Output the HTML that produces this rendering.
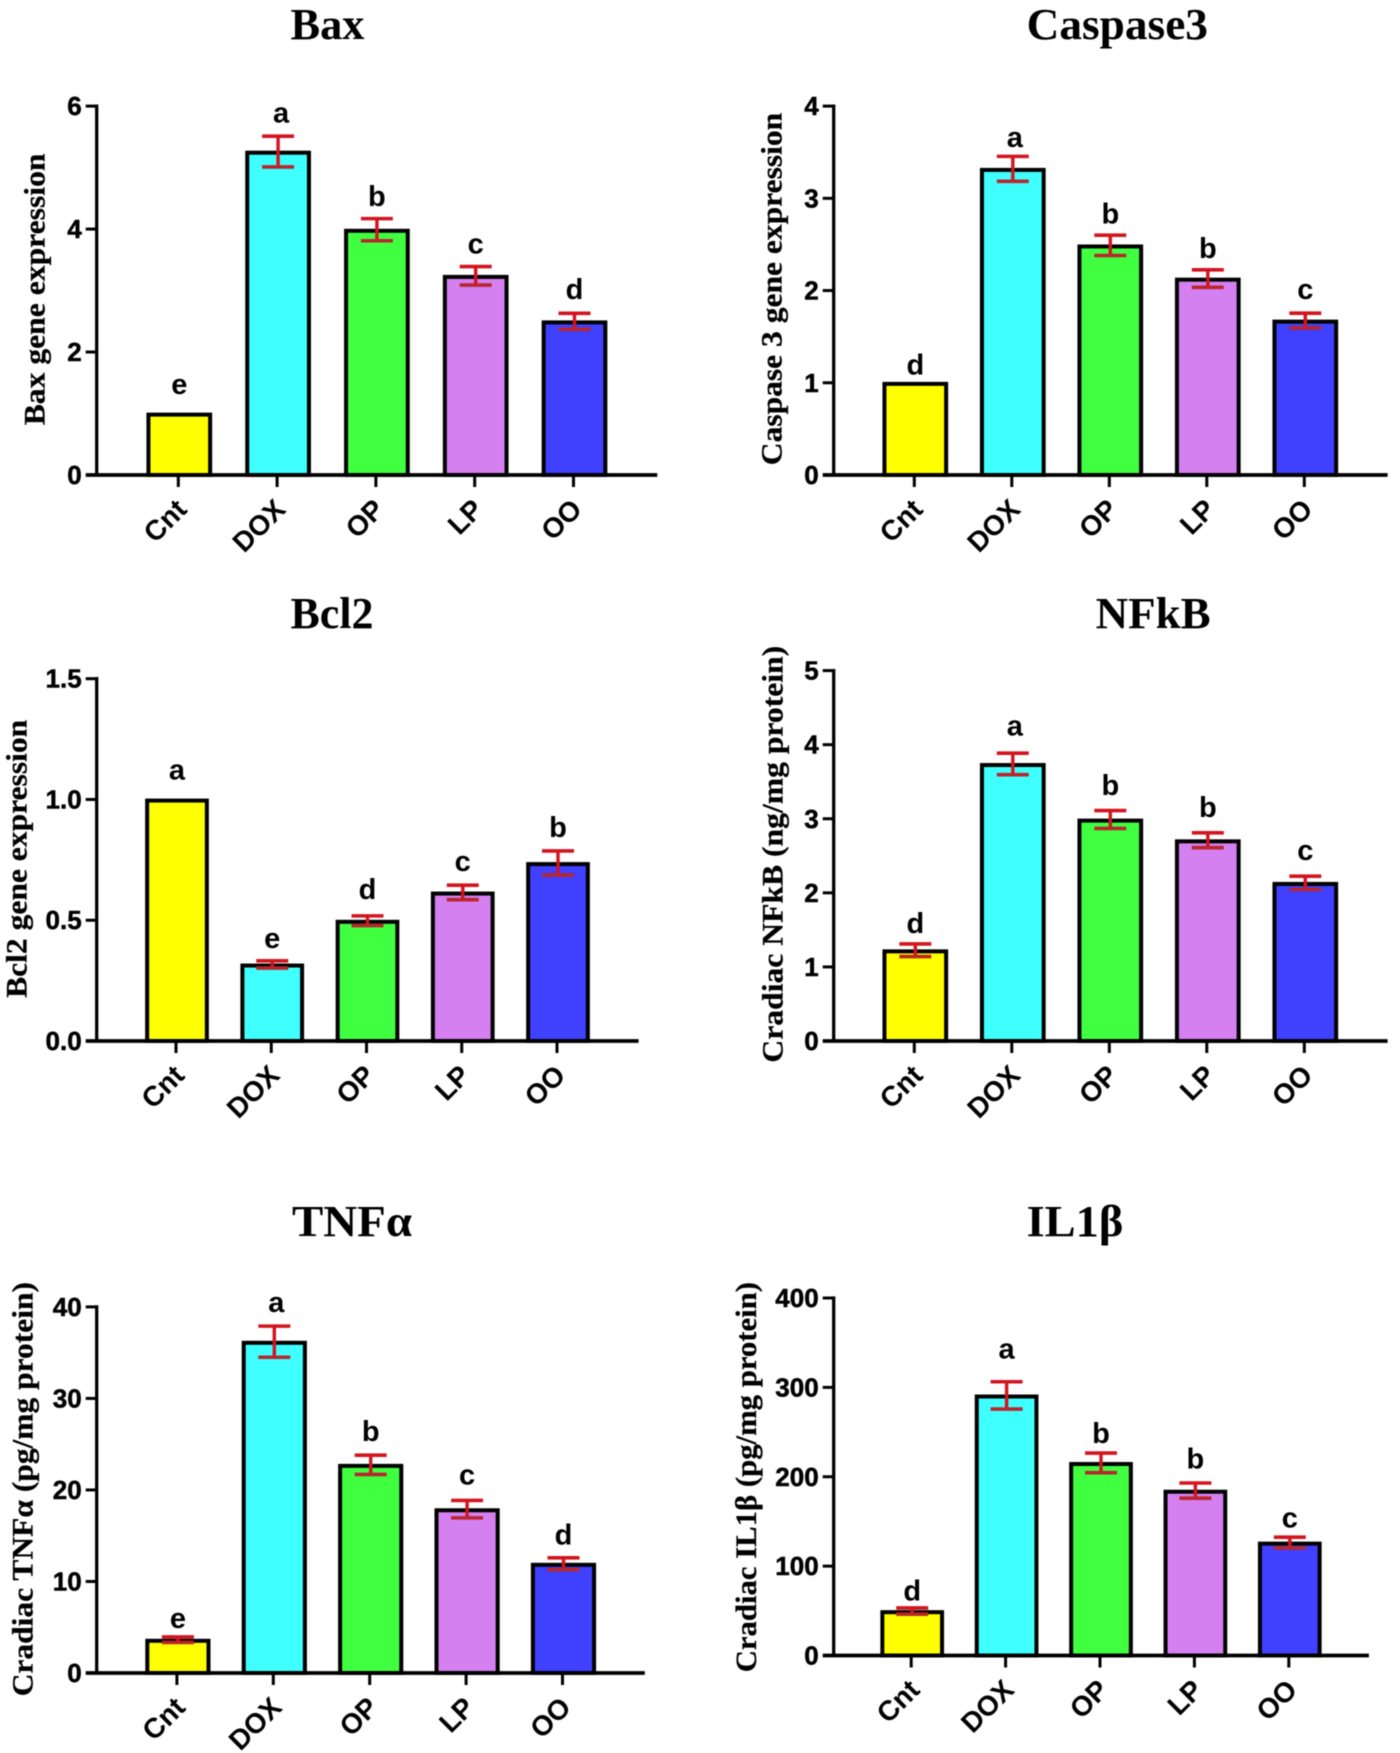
<!DOCTYPE html>
<html lang="en">
<head>
<meta charset="utf-8">
<title>Cardiac gene and cytokine expression bar charts</title>
<style>
  html, body { margin: 0; padding: 0; background: #fff; }
  svg { display: block; filter: blur(0.45px); }
  .panel-title { font-family: "Liberation Serif", serif; font-weight: bold; font-size: 44px; fill: #000; }
  .y-title { font-family: "Liberation Serif", serif; font-weight: bold; font-size: 30px; fill: #000; stroke: #000; stroke-width: 0.25px; }
  .tick { font-family: "Liberation Sans", sans-serif; font-weight: bold; font-size: 26px; fill: #000; stroke: #000; stroke-width: 0.5px; }
  .cat { font-family: "Liberation Sans", sans-serif; font-weight: bold; font-size: 28px; fill: #000; }
  .letter { font-family: "Liberation Sans", sans-serif; font-weight: bold; font-size: 29px; fill: #000; }
</style>
</head>
<body>
<svg id="figure" width="1400" height="1753" viewBox="0 0 1400 1753" xmlns="http://www.w3.org/2000/svg">
  <rect width="1400" height="1753" fill="#ffffff"/>

  <g id="panel-bax">
    <text class="panel-title" x="290.5" y="38.8" textLength="74" lengthAdjust="spacingAndGlyphs">Bax</text>
    <text class="y-title" transform="translate(44.7,425.3) rotate(-90)" textLength="271.8" lengthAdjust="spacingAndGlyphs">Bax gene expression</text>
  </g>
  <g id="panel-caspase">
    <text class="panel-title" x="1026.6" y="38.8" textLength="181.4" lengthAdjust="spacingAndGlyphs">Caspase3</text>
    <text class="y-title" transform="translate(781.4,465.2) rotate(-90)" textLength="352.4" lengthAdjust="spacingAndGlyphs">Caspase 3 gene expression</text>
  </g>
  <g id="panel-bcl2">
    <text class="panel-title" x="290.5" y="628" textLength="83" lengthAdjust="spacingAndGlyphs">Bcl2</text>
    <text class="y-title" transform="translate(26.7,997.9) rotate(-90)" textLength="278.1" lengthAdjust="spacingAndGlyphs">Bcl2 gene expression</text>
  </g>
  <g id="panel-nfkb">
    <text class="panel-title" x="1095.7" y="628" textLength="115" lengthAdjust="spacingAndGlyphs">NFkB</text>
    <text class="y-title" transform="translate(782.3,1062.6) rotate(-90)" textLength="416.8" lengthAdjust="spacingAndGlyphs">Cradiac NFkB (ng/mg protein)</text>
  </g>
  <g id="panel-tnf">
    <text class="panel-title" x="292" y="1235.9" textLength="120" lengthAdjust="spacingAndGlyphs">TNFα</text>
    <text class="y-title" transform="translate(32.4,1696.3) rotate(-90)" textLength="414.3" lengthAdjust="spacingAndGlyphs">Cradiac TNFα (pg/mg protein)</text>
  </g>
  <g id="panel-il1">
    <text class="panel-title" x="1026.6" y="1235.9" textLength="96.7" lengthAdjust="spacingAndGlyphs">IL1β</text>
    <text class="y-title" transform="translate(756,1672.3) rotate(-90)" textLength="390.3" lengthAdjust="spacingAndGlyphs">Cradiac IL1β (pg/mg protein)</text>
  </g>
</svg>

<script>
// ---- shared categories ----
const categories = ['Cnt', 'DOX', 'OP', 'LP', 'OO'];
const barColors = ['#ffff00', '#40ffff', '#40ff40', '#d580f0', '#4040ff'];

// ---- Bax ----
const baxValues = [1, 5.26, 3.99, 3.24, 2.5];
const baxErrors = [0, 0.25, 0.18, 0.15, 0.13];
const baxLetters = ['e', 'a', 'b', 'c', 'd'];
const baxLetterLift = [0.45, 0.35, 0.34, 0.34, 0.37];
const baxTicks = ['0', '2', '4', '6'];

// ---- Caspase 3 ----
const caspaseValues = [1, 3.32, 2.49, 2.13, 1.675];
const caspaseErrors = [0, 0.135, 0.11, 0.095, 0.08];
const caspaseLetters = ['d', 'a', 'b', 'b', 'c'];
const caspaseLetterLift = [0.18, 0.19, 0.22, 0.22, 0.24];
const caspaseTicks = ['0', '1', '2', '3', '4'];

// ---- Bcl2 ----
const bcl2Values = [1.0, 0.317, 0.498, 0.615, 0.737];
const bcl2Errors = [0, 0.015, 0.02, 0.03, 0.05];
const bcl2Letters = ['a', 'e', 'd', 'c', 'b'];
const bcl2LetterLift = [0.115, 0.087, 0.106, 0.091, 0.092];
const bcl2Ticks = ['0.0', '0.5', '1.0', '1.5'];

// ---- NFkB ----
const nfkbValues = [1.225, 3.74, 2.99, 2.71, 2.135];
const nfkbErrors = [0.085, 0.145, 0.12, 0.1, 0.09];
const nfkbLetters = ['d', 'a', 'b', 'b', 'c'];
const nfkbLetterLift = [0.265, 0.35, 0.325, 0.33, 0.325];
const nfkbTicks = ['0', '1', '2', '3', '4', '5'];

// ---- TNF alpha ----
const tnfValues = [3.64, 36.2, 22.75, 17.9, 11.94];
const tnfErrors = [0.3, 1.7, 1.05, 0.95, 0.65];
const tnfLetters = ['e', 'a', 'b', 'c', 'd'];
const tnfLetterLift = [1.85, 2.4, 2.5, 2.6, 2.4];
const tnfTicks = ['0', '10', '20', '30', '40'];

// ---- IL1 beta ----
const il1Values = [49.7, 291, 215.5, 184.5, 126.4];
const il1Errors = [3.5, 15.3, 11, 8.5, 6];
const il1Letters = ['d', 'a', 'b', 'b', 'c'];
const il1LetterLift = [17.7, 35, 21, 26, 20];
const il1Ticks = ['0', '100', '200', '300', '400'];

const SVG_NS = 'http://www.w3.org/2000/svg';

function make(parent, tag, attrs, text) {
  const node = document.createElementNS(SVG_NS, tag);
  Object.keys(attrs).forEach(function (k) { node.setAttribute(k, attrs[k]); });
  if (text !== undefined) node.textContent = text;
  parent.appendChild(node);
  return node;
}

function drawPanel(cfg) {
  const root = document.getElementById(cfg.id);
  const prefix = cfg.prefix;
  const yMax = parseFloat(cfg.ticks[cfg.ticks.length - 1]);
  const yScale = function (v) { return cfg.base - (v / yMax) * (cfg.base - cfg.top); };
  const xScale = function (i) { return cfg.x0 + i * cfg.step; };
  const AXIS_W = 3.3;
  const BAR_STROKE = 4;
  const BAR_SHIFT = 1;
  const BAR_INSET = 1.1;
  const ERR_RED = '#d3141e';
  const ERR_RED_LOW = '#b8262c';

  categories.forEach(function (cat, i) {
    const cx = xScale(i) + BAR_SHIFT;
    const topY = yScale(cfg.values[i]) + BAR_INSET;
    const bar = make(root, 'rect', {
      x: cx - cfg.barW / 2, y: topY, width: cfg.barW, height: cfg.base - topY,
      fill: barColors[i], stroke: '#000000', 'stroke-width': BAR_STROKE
    });
    
    
  });

  categories.forEach(function (cat, i) {
    const err = cfg.errors[i];
    if (!err) return;
    const cx = xScale(i) + BAR_SHIFT;
    const hi = yScale(cfg.values[i] + err);
    const lo = yScale(cfg.values[i] - err);
    const group = make(root, 'g', { fill: 'none' });
    
    
    make(group, 'line', { x1: cx, x2: cx, y1: hi, y2: lo, stroke: ERR_RED, 'stroke-width': 3.4 });
    make(group, 'line', { x1: cx - 16, x2: cx + 16, y1: lo, y2: lo, stroke: ERR_RED_LOW, 'stroke-width': 3.6 });
    make(group, 'line', { x1: cx - 16, x2: cx + 16, y1: hi, y2: hi, stroke: ERR_RED, 'stroke-width': 3.6 });
  });

  const yAxis = make(root, 'line', {
    x1: cfg.axisX, x2: cfg.axisX, y1: cfg.top - AXIS_W / 2, y2: cfg.base,
    stroke: '#000', 'stroke-width': AXIS_W
  });
  
  

  const xAxis = make(root, 'line', {
    x1: cfg.axisX - 11, x2: cfg.axisRight, y1: cfg.base, y2: cfg.base,
    stroke: '#000', 'stroke-width': AXIS_W + 0.5
  });
  
  

  cfg.ticks.forEach(function (label) {
    const y = yScale(parseFloat(label));
    if (parseFloat(label) !== 0) {
      const mark = make(root, 'line', {
        x1: cfg.axisX - 11, x2: cfg.axisX, y1: y, y2: y, stroke: '#000', 'stroke-width': 3
      });
      
      
    }
    const tick = make(root, 'text', {
      class: 'tick', x: cfg.axisX - 15, y: y + 9, 'text-anchor': 'end'
    }, label);
    
    
  });

  categories.forEach(function (cat, i) {
    const cx = xScale(i);
    const mark = make(root, 'line', {
      x1: cx, x2: cx, y1: cfg.base, y2: cfg.base + 12, stroke: '#000', 'stroke-width': 3
    });
    
    

    const ax = cx + 10;
    const ay = cfg.base + 36;
    const label = make(root, 'text', {
      class: 'cat', 'text-anchor': 'end',
      transform: 'translate(' + ax + ',' + ay + ') rotate(-45)'
    }, cat);
    
    

    const level = cfg.values[i] + cfg.errors[i] + cfg.lift[i];
    const glyph = cfg.letters[i];
    const baselineDrop = (glyph === 'b' || glyph === 'd') ? 8.5 : 8;
    const letter = make(root, 'text', {
      class: 'letter', 'text-anchor': 'middle',
      x: cx + BAR_SHIFT + (i === 1 ? cfg.letterNudge : 0), y: yScale(level) + baselineDrop
    }, glyph);
    
    
  });
}

drawPanel({ id: 'panel-bax', prefix: 'bax', values: baxValues, errors: baxErrors, letters: baxLetters, lift: baxLetterLift, ticks: baxTicks,
  axisX: 96.7, axisRight: 657.3, top: 106.1, base: 475, x0: 178.3, step: 98.8, barW: 61.7, letterNudge: 3 });
drawPanel({ id: 'panel-caspase', prefix: 'caspase3', values: caspaseValues, errors: caspaseErrors, letters: caspaseLetters, lift: caspaseLetterLift, ticks: caspaseTicks,
  axisX: 833.7, axisRight: 1387.6, top: 106.1, base: 475, x0: 914.3, step: 97.5, barW: 61.7, letterNudge: 2 });
drawPanel({ id: 'panel-bcl2', prefix: 'bcl2', values: bcl2Values, errors: bcl2Errors, letters: bcl2Letters, lift: bcl2LetterLift, ticks: bcl2Ticks,
  axisX: 96.7, axisRight: 638.6, top: 678.7, base: 1041, x0: 176, step: 95.25, barW: 59.7, letterNudge: 0 });
drawPanel({ id: 'panel-nfkb', prefix: 'nfkb', values: nfkbValues, errors: nfkbErrors, letters: nfkbLetters, lift: nfkbLetterLift, ticks: nfkbTicks,
  axisX: 833.7, axisRight: 1387.6, top: 670.6, base: 1041, x0: 914.3, step: 97.5, barW: 61.7, letterNudge: 2 });
drawPanel({ id: 'panel-tnf', prefix: 'tnf-alpha', values: tnfValues, errors: tnfErrors, letters: tnfLetters, lift: tnfLetterLift, ticks: tnfTicks,
  axisX: 96.7, axisRight: 644.8, top: 1306.9, base: 1673, x0: 176.9, step: 96.4, barW: 61.2, letterNudge: 2 });
drawPanel({ id: 'panel-il1', prefix: 'il1-beta', values: il1Values, errors: il1Errors, letters: il1Letters, lift: il1LetterLift, ticks: il1Ticks,
  axisX: 833.7, axisRight: 1368.9, top: 1298, base: 1655.5, x0: 911.2, step: 94.4, barW: 59.7, letterNudge: 0 });
</script>
</body>
</html>
